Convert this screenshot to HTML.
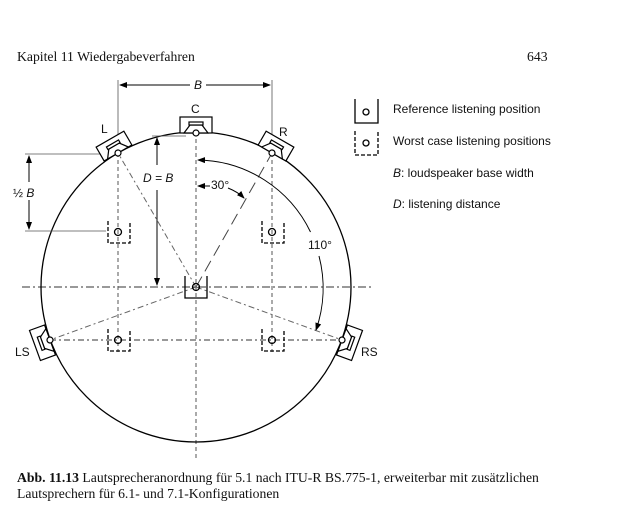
<!DOCTYPE html>
<html><head><meta charset="utf-8"><style>
body{margin:0;background:#fff;}
svg{display:block}
.s{font-family:"Liberation Sans",Arial,sans-serif;font-size:12px;fill:#111}
.t{font-family:"Liberation Serif","Times New Roman",serif;font-size:13.7px;fill:#111}
</style></head><body>
<svg width="625" height="522" viewBox="0 0 625 522" xmlns="http://www.w3.org/2000/svg">
<defs>
<marker id="a" markerWidth="8" markerHeight="8" refX="7" refY="4" orient="auto" markerUnits="userSpaceOnUse"><path d="M0,1 L8,4 L0,7z" fill="#000"/></marker>
<g id="spk" fill="#fff" stroke="#000" stroke-width="1.2">
<rect x="-16" y="-16" width="32" height="16"/>
<path d="M-12,0 L-6,-8 L6,-8 L12,0z"/>
<rect x="-7" y="-11" width="14" height="3"/>
<circle cx="0" cy="0" r="3"/>
</g>
</defs>
<text class="t" x="17" y="61">Kapitel 11  Wiedergabeverfahren</text>
<text class="t" x="527" y="61">643</text>

<g stroke="#333" stroke-width="1" fill="none">
<line x1="22" y1="287" x2="372" y2="287" stroke-dasharray="8,3,2,3"/>
<line x1="196" y1="132" x2="196" y2="460" stroke-dasharray="4,3" stroke="#555"/>
<line x1="118" y1="153" x2="118" y2="352" stroke-dasharray="4,3" stroke="#555"/>
<line x1="272" y1="153" x2="272" y2="352" stroke-dasharray="4,3" stroke="#555"/>
<line x1="50" y1="340" x2="342" y2="340" stroke-dasharray="6,3,2,3"/>
<line x1="196" y1="287" x2="118" y2="153" stroke-dasharray="6,3,2,3" stroke="#666"/>
<line x1="196" y1="287" x2="272" y2="153" stroke-dasharray="12,6" stroke="#444"/>
<line x1="196" y1="287" x2="50" y2="340" stroke-dasharray="6,3,2,3" stroke="#666"/>
<line x1="196" y1="287" x2="342" y2="340" stroke-dasharray="6,3,2,3" stroke="#666"/>
</g>
<circle cx="196" cy="287" r="155" fill="none" stroke="#000" stroke-width="1.3"/>

<g stroke="#555" stroke-width="0.8" fill="none">
<line x1="118" y1="80" x2="118" y2="150"/>
<line x1="272" y1="80" x2="272" y2="150"/>
<line x1="25" y1="154" x2="110" y2="154"/>
<line x1="25" y1="231" x2="106" y2="231"/>
<line x1="152" y1="136" x2="186" y2="136"/>
</g>
<g stroke="#000" stroke-width="1" fill="none">
<line x1="190" y1="85" x2="120" y2="85" marker-end="url(#a)"/>
<line x1="206" y1="85" x2="270" y2="85" marker-end="url(#a)"/>
<line x1="29" y1="170" x2="29" y2="156" marker-end="url(#a)"/>
<line x1="29" y1="215" x2="29" y2="229" marker-end="url(#a)"/>
<line x1="29" y1="170" x2="29" y2="182"/><line x1="29" y1="200" x2="29" y2="215"/>
<line x1="157" y1="165" x2="157" y2="138" marker-end="url(#a)"/>
<line x1="157" y1="190" x2="157" y2="285" marker-end="url(#a)"/>
<path d="M310.5,232 A127,127 0 0 0 198,160" marker-end="url(#a)"/>
<path d="M319,256 A127,127 0 0 1 316,330" marker-end="url(#a)"/>
<line x1="210" y1="186" x2="198" y2="186" marker-end="url(#a)"/>
<path d="M228,188 Q238,192 244,198" marker-end="url(#a)"/>
</g>
<text class="s" x="194" y="89" font-style="italic">B</text>
<text class="s" x="13" y="197">½ <tspan font-style="italic">B</tspan></text>
<text class="s" x="143" y="182" font-style="italic">D = B</text>
<text class="s" x="211" y="189">30°</text>
<text class="s" x="308" y="249">110°</text>

<use href="#spk" transform="translate(196,133)"/>
<use href="#spk" transform="translate(118,153) rotate(-30)"/>
<use href="#spk" transform="translate(272,153) rotate(30)"/>
<use href="#spk" transform="translate(50,340) rotate(-110)"/>
<use href="#spk" transform="translate(342,340) rotate(110)"/>
<text class="s" x="191" y="113">C</text>
<text class="s" x="101" y="133">L</text>
<text class="s" x="279" y="136">R</text>
<text class="s" x="15" y="356">LS</text>
<text class="s" x="361" y="356">RS</text>

<g fill="none" stroke="#000" stroke-width="1.3">
<path d="M185,276 V298 H207 V276"/>
<circle cx="196" cy="287" r="3.5"/>
<g stroke-dasharray="4,2">
<path d="M108,221 V243 H130 V221"/><path d="M262,221 V243 H284 V221"/>
<path d="M108,329 V351 H130 V329"/><path d="M262,329 V351 H284 V329"/>
<path d="M355,131 V155 H378 V131"/>
</g>
<circle cx="118" cy="232" r="3.5"/><circle cx="272" cy="232" r="3.5"/>
<circle cx="118" cy="340" r="3.5"/><circle cx="272" cy="340" r="3.5"/>
<path d="M355,99 V123 H378 V99"/>
<circle cx="366" cy="112" r="3"/><circle cx="366" cy="143" r="3"/>
</g>
<text class="s" x="393" y="113">Reference listening position</text>
<text class="s" x="393" y="145">Worst case listening positions</text>
<text class="s" x="393" y="177"><tspan font-style="italic">B</tspan>: loudspeaker base width</text>
<text class="s" x="393" y="208"><tspan font-style="italic">D</tspan>: listening distance</text>

<text class="t" x="17" y="482"><tspan font-weight="bold">Abb. 11.13</tspan>  Lautsprecheranordnung für 5.1 nach ITU-R BS.775-1, erweiterbar mit zusätzlichen</text>
<text class="t" x="17" y="498">Lautsprechern für 6.1- und 7.1-Konfigurationen</text>
</svg>
</body></html>
